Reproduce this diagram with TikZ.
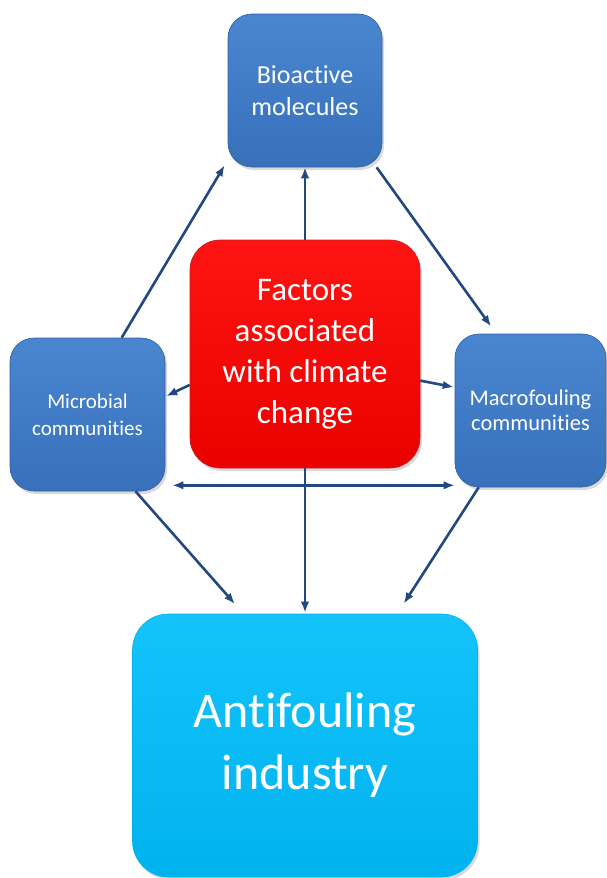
\documentclass[tikz,border=0pt]{standalone}
\usepackage{fontspec}
\setmainfont{Carlito}[RawFeature={-liga;-clig;-dlig;-calt}]
\usepackage{xcolor}
\usepackage{tikz}
\usetikzlibrary{arrows.meta,shadows,calc}

\definecolor{bluetop}{RGB}{74,134,208}
\definecolor{bluebot}{RGB}{56,112,186}
\definecolor{blueline}{RGB}{45,95,165}
\definecolor{redtop}{RGB}{255,20,20}
\definecolor{redbot}{RGB}{235,0,0}
\definecolor{redline}{RGB}{200,30,30}
\definecolor{cyantop}{RGB}{20,195,250}
\definecolor{cyanbot}{RGB}{0,178,238}
\definecolor{arrowblue}{RGB}{33,72,128}

\begin{document}
\begin{tikzpicture}[x=1pt, y=-1pt, line width=2.6pt, >={Latex[length=11pt,width=8.5pt]}]
    \tikzstyle{box}=[rectangle, text=white, align=center, inner sep=0pt, line width=.6pt,
                     drop shadow={opacity=.3, shadow xshift=2pt, shadow yshift=-3pt}]
    \tikzstyle{bluebox}=[box, rounded corners=24pt, draw=blueline, top color=bluetop, bottom color=bluebot,
                         minimum width=154pt, minimum height=153pt]
    \tikzstyle{link}=[draw=arrowblue, ->]
    \useasboundingbox (0,0) rectangle (607,878);

    \node[bluebox, font=\fontsize{26}{32}\selectfont] (bio) at (305,90.5) {Bioactive\\molecules};
    \node[bluebox, minimum width=155pt, font=\fontsize{21}{27}\selectfont] (micro) at (87.5,414.5) {Microbial\\communities};
    \node[bluebox, minimum width=151pt, font=\fontsize{22.5}{25}\selectfont] (macro) at (530.5,410.5) {Macrofouling\\communities};
    \node[box, rounded corners=30pt, draw=redline, top color=redtop, bottom color=redbot,
          minimum width=230pt, minimum height=228pt, font=\fontsize{33}{41}\selectfont]
          (factors) at (305,354) {Factors\\associated\\with climate\\change};
    \node[box, rounded corners=36pt, draw=cyanbot, top color=cyantop, bottom color=cyanbot,
          minimum width=345pt, minimum height=263pt, font=\fontsize{50}{62}\selectfont]
          (anti) at (305,745.5) {Antifouling\\industry};

    \draw[link] (factors.north) -- (bio.south);
    \draw[link, shorten >=6pt] (micro.66) -- (bio.222);
    \draw[link, shorten >=9pt] (bio.-47) -- (macro.114);
    \draw[link, shorten >=1pt] (factors.195) -- (micro.13);
    \draw[link, shorten >=1pt] (factors.347) -- (macro.163);
    \draw[link, <->] ($(micro.south east)+(7,-6)$) -- ($(macro.south west)+(0,-2)$);
    \draw[link, shorten >=13pt] (micro.-58) -- (anti.115);
    \draw[link, shorten >=1pt] (factors.south) -- (anti.north);
    \draw[link, shorten >=12pt] (macro.236) -- (anti.55);
\end{tikzpicture}
\end{document}
